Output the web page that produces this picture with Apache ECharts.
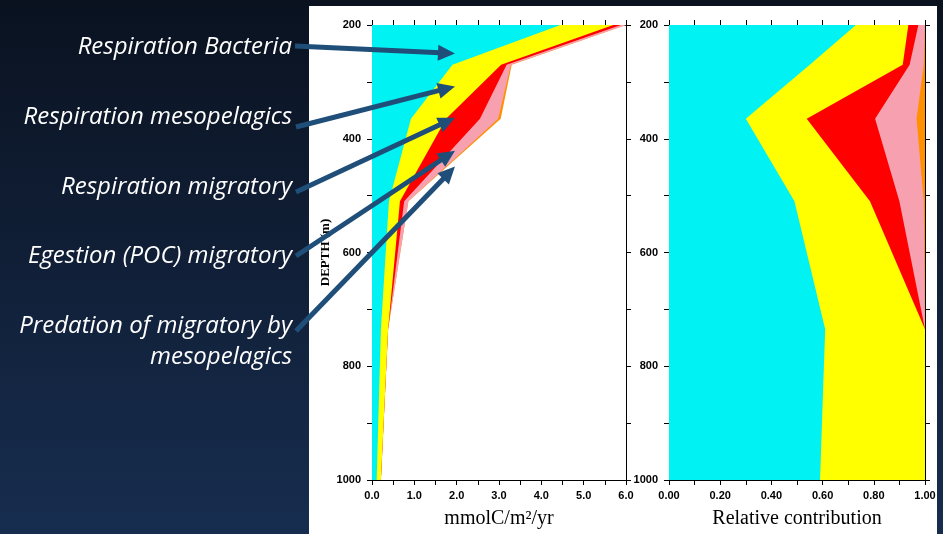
<!DOCTYPE html>
<html>
<head>
<meta charset="utf-8">
<script src="https://cdn.jsdelivr.net/npm/echarts@6/dist/echarts.min.js"></script>
<style>html,body{margin:0;padding:0;}#c{width:943px;height:534px;}</style>
</head>
<body>
<div id="c"></div>
<script>
// ---- data ----
const depth = [200, 270, 365, 510, 735, 1000];

// absolute fluxes, mmolC/m2/yr
const respBacteria = [4.45, 1.90, 0.92, 0.40, 0.21, 0.11];
const respMeso     = [1.25, 1.15, 0.83, 0.26, 0.17, 0.10];
const respMigr     = [0.18, 0.13, 0.80, 0.10, 0.00, 0.00];
const egestionMigr = [0.12, 0.10, 0.43, 0.10, 0.00, 0.00];
const predationMigr= [0.00, 0.02, 0.06, 0.00, 0.00, 0.00];

// relative contribution
const fracBacteria = [0.730, 0.550, 0.300, 0.490, 0.610, 0.590];
const fracMeso     = [0.205, 0.363, 0.238, 0.295, 0.390, 0.410];
const fracMigr     = [0.039, 0.027, 0.267, 0.115, 0.000, 0.000];
const fracEgestion = [0.026, 0.055, 0.162, 0.095, 0.000, 0.000];
const fracPredation= [0.000, 0.005, 0.033, 0.005, 0.000, 0.000];

const fluxTickLabels = ['0.0','1.0','2.0','3.0','4.0','5.0','6.0'];
const fracTickLabels = ['0.00','0.20','0.40','0.60','0.80','1.00'];
const depthTickLabels = ['200','400','600','800','1000'];

const labels = ['Respiration Bacteria','Respiration mesopelagics','Respiration migratory','Egestion (POC) migratory','Predation of migratory by','mesopelagics'];
// arrow tips in data units (flux, depth)
const arrowTips = [[1.96, 250], [1.96, 308], [1.96, 363], [1.96, 421], [1.96, 449]];

const bandColors = ['#00F2F2', '#FFFF00', '#FF0000', '#F7A1B0', '#FF9000'];

// ---- build ----
function cumulate(arrs) {
  const out = []; let acc = depth.map(() => 0);
  arrs.forEach(a => { acc = acc.map((v, i) => v + a[i]); out.push(acc.slice()); });
  return out;
}
function bandSeries(name, color, hi, gi) {
  return {
    type: 'custom', name, coordinateSystem: 'cartesian2d',
    xAxisIndex: gi * 2, yAxisIndex: gi * 2, silent: true, animation: false, clip: true,
    data: depth.map((d, i) => [hi[i], d]), encode: { x: 0, y: 1 },
    renderItem: (params, api) => {
      if (params.dataIndex !== 0) return null;
      const pts = [];
      for (let i = 0; i < depth.length; i++) pts.push(api.coord([hi[i], depth[i]]));
      for (let i = depth.length - 1; i >= 0; i--) pts.push(api.coord([0, depth[i]]));
      return { type: 'polygon', shape: { points: pts }, style: { fill: color } };
    }
  };
}
const cumL = cumulate([respBacteria, respMeso, respMigr, egestionMigr, predationMigr]);
const cumR = cumulate([fracBacteria, fracMeso, fracMigr, fracEgestion, fracPredation]);
const series = [];
for (let k = 4; k >= 0; k--) series.push(bandSeries('L' + k, bandColors[k], cumL[k], 0));
for (let k = 4; k >= 0; k--) series.push(bandSeries('R' + k, bandColors[k], cumR[k], 1));

const tickFont = { color: '#000', fontFamily: 'Liberation Sans', fontWeight: 'bold', fontSize: 11 };
const lineStyle = { color: '#000', width: 1 };
function xAx(gi, pos, max, interval, fmt, name) {
  return {
    type: 'value', gridIndex: gi, position: pos, min: 0, max, interval,
    axisLine: { show: true, onZero: false, lineStyle },
    axisTick: { show: true, length: 5, lineStyle },
    splitLine: { show: false },
    axisLabel: fmt ? Object.assign({ show: true, margin: 10, formatter: fmt }, tickFont) : { show: false },
    name: name || '', nameLocation: 'middle', nameGap: 29,
    nameTextStyle: { color: '#000', fontFamily: 'Liberation Serif', fontSize: 20 }
  };
}
function yAx(gi, pos, showLabels, name) {
  return {
    type: 'value', gridIndex: gi, position: pos, min: 200, max: 1000, interval: 100, inverse: true,
    axisLine: { show: true, onZero: false, lineStyle },
    axisTick: { show: true, length: 5, lineStyle },
    splitLine: { show: false },
    axisLabel: showLabels ? Object.assign({ show: true, margin: 11,
      formatter: v => (v % 200 === 0 ? depthTickLabels[(v - 200) / 200] : '') }, tickFont) : { show: false },
    name: name || '', nameLocation: 'middle', nameGap: 40,
    nameTextStyle: { color: '#000', fontFamily: 'Liberation Serif', fontWeight: 'bold', fontSize: 13 }
  };
}
const fluxFmt = v => { const r = Math.round(v * 2); return r % 2 === 0 ? fluxTickLabels[r / 2] : ''; };
const fracFmt = v => { const r = Math.round(v * 10); return r % 2 === 0 ? fracTickLabels[r / 2] : ''; };

const chart = echarts.init(document.getElementById('c'), null, { renderer: 'canvas' });
chart.setOption({
  animation: false,
  backgroundColor: { type: 'linear', x: 0, y: 0, x2: 0, y2: 1,
    colorStops: [{ offset: 0, color: '#0a1220' }, { offset: 1, color: '#172d4f' }] },
  grid: [
    { left: 372, top: 25, width: 254, height: 455 },
    { left: 669, top: 25, width: 256, height: 455 }
  ],
  xAxis: [
    xAx(0, 'bottom', 6, 0.5, fluxFmt, 'mmolC/m²/yr'),
    xAx(0, 'top', 6, 0.5, null),
    xAx(1, 'bottom', 1, 0.1, fracFmt, 'Relative contribution'),
    xAx(1, 'top', 1, 0.1, null)
  ],
  yAxis: [
    yAx(0, 'left', true, 'DEPTH (m)'),
    yAx(0, 'right', false),
    yAx(1, 'left', true),
    yAx(1, 'right', false)
  ],
  series
});

// ---- annotations ----
const g = [];
g.push({ type: 'rect', shape: { x: 309, y: 6, width: 628, height: 528 }, style: { fill: '#ffffff' }, z: -10, silent: true });
const labelY = [47, 117, 187, 256, 326, 357];
labels.forEach((t, i) => g.push({
  type: 'text', x: 292, y: labelY[i], z: 50, silent: true,
  style: { text: t, align: 'right', verticalAlign: 'middle', fill: '#ffffff',
    font: 'italic 24px "Open Sans"' }
}));
const arrowStarts = [[295, 46], [296, 127], [296, 192], [296, 256], [296, 331]];
const arrowColor = '#1F4E79';
arrowTips.forEach((tip, i) => {
  const p = chart.convertToPixel({ xAxisIndex: 0, yAxisIndex: 0 }, tip);
  const [x0, y0] = arrowStarts[i];
  const dx = p[0] - x0, dy = p[1] - y0, L = Math.hypot(dx, dy), ux = dx / L, uy = dy / L;
  const hl = 17, hw = 8;
  const bx = p[0] - ux * hl, by = p[1] - uy * hl;
  g.push({ type: 'line', z: 100, silent: true,
    shape: { x1: x0, y1: y0, x2: bx + ux * 2, y2: by + uy * 2 },
    style: { stroke: arrowColor, lineWidth: 5 } });
  g.push({ type: 'polygon', z: 100, silent: true,
    shape: { points: [[p[0], p[1]], [bx - uy * hw, by + ux * hw], [bx + uy * hw, by - ux * hw]] },
    style: { fill: arrowColor } });
});
chart.setOption({ graphic: g });
</script>
</body>
</html>
